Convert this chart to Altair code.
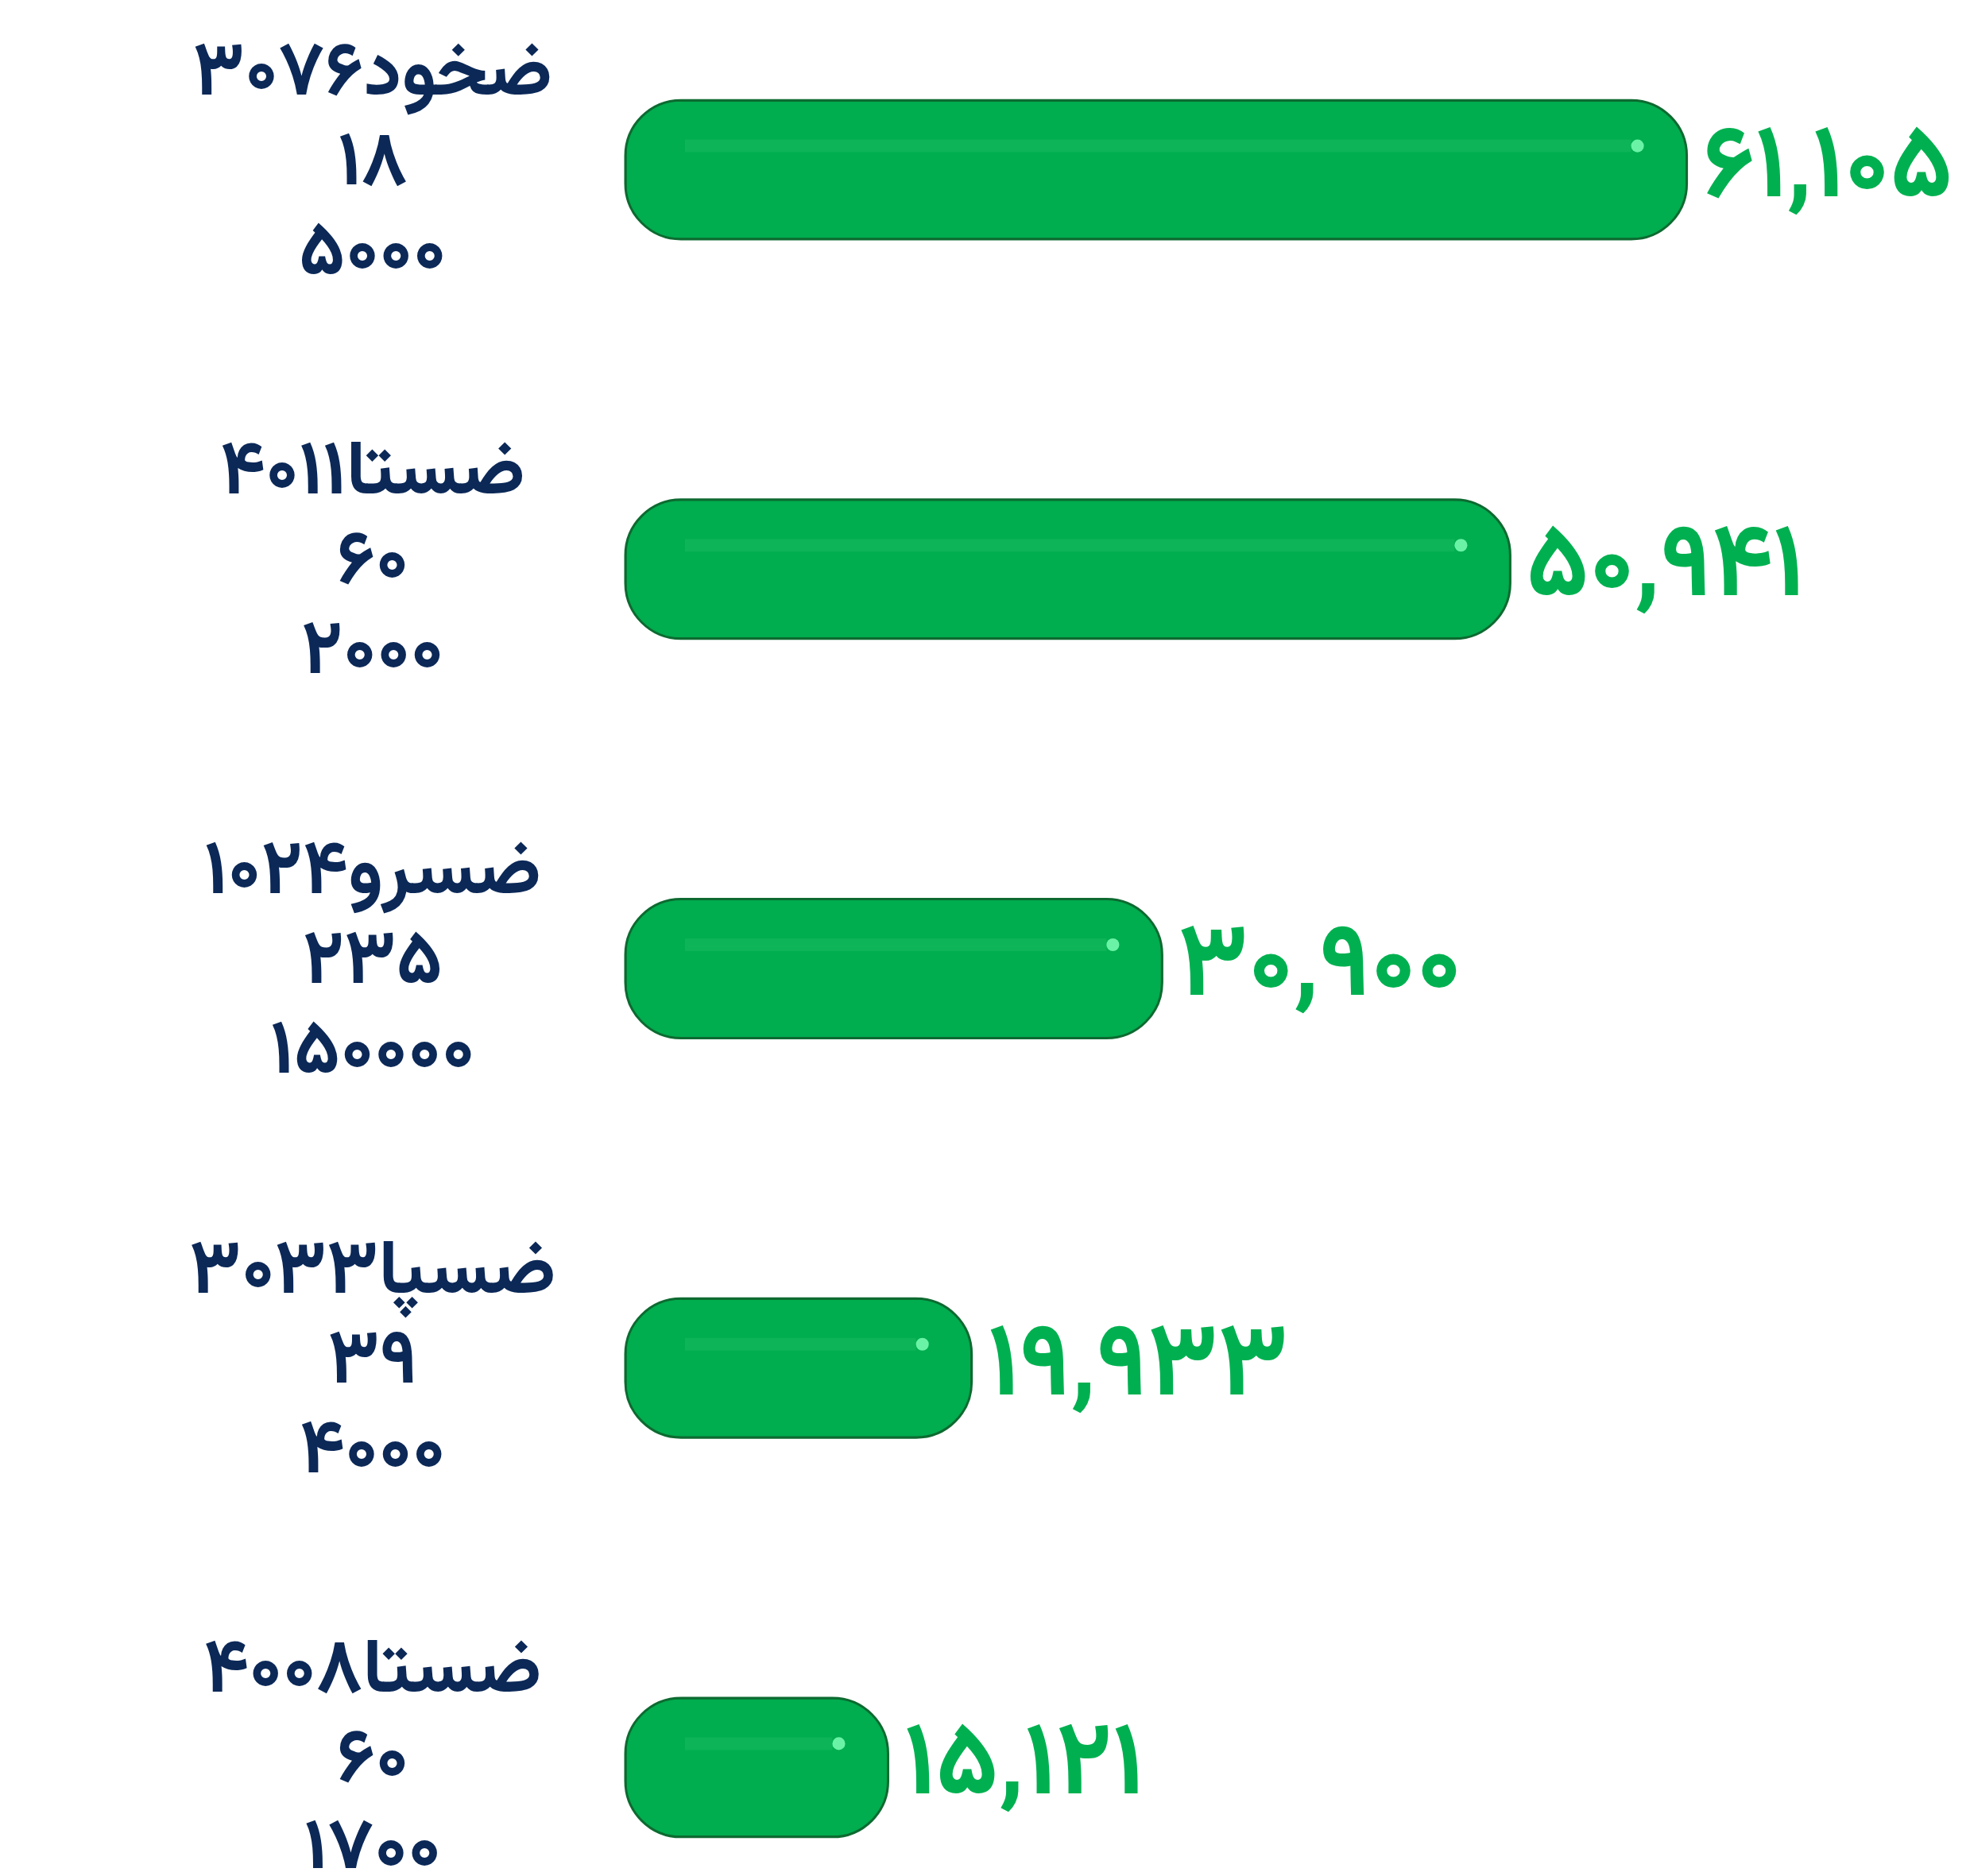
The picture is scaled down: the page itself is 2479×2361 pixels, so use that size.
import altair as alt
import pandas as pd

# data
names = ["ضخود۳۰۷۶", "ضستا۴۰۱۱", "ضسرو۱۰۲۴", "ضسپا۳۰۳۳", "ضستا۴۰۰۸"]
line2 = ["۱۸", "۶۰", "۲۳۵", "۳۹", "۶۰"]
line3 = ["۵۰۰۰", "۲۰۰۰", "۱۵۰۰۰۰", "۴۰۰۰", "۱۷۰۰"]
values = [61105, 50941, 30900, 19933, 15121]

fa_digits = str.maketrans("0123456789", "۰۱۲۳۴۵۶۷۸۹")

df = pd.DataFrame({
    "cat": [f"{a}\n{b}\n{c}" for a, b, c in zip(names, line2, line3)],
    "value": values,
    "start": [0] * len(values),
    "vtext": [f"{v:,}".translate(fa_digits) for v in values],
})

GREEN = "#00ad4f"
NAVY = "#0b2857"
FONT = "Vazirmatn, Noto Sans Arabic, Noto Naskh Arabic, DejaVu Sans"

y_enc = alt.Y("cat:N", sort=None, axis=None,
              scale=alt.Scale(paddingInner=0.652, paddingOuter=0.05))
x_scale = alt.Scale(domain=[0, 70000], nice=False, zero=True)

base = alt.Chart(df)

bars = base.mark_bar(
    cornerRadius=70, color=GREEN, stroke="#0d6a30", strokeWidth=3
).encode(
    x=alt.X("value:Q", scale=x_scale, axis=None),
    y=y_enc,
)

shine = base.mark_rule(
    color="#3fd47e", strokeWidth=16, opacity=0.2,
    xOffset=75, x2Offset=-70, yOffset=-30,
).encode(
    x=alt.X("start:Q", scale=x_scale),
    x2="value:Q",
    y=y_enc,
)

spot = base.mark_point(
    filled=True, color="#7dffb5", size=260, opacity=0.85, shape="circle",
    xOffset=-62, yOffset=-30,
).encode(
    x=alt.X("value:Q", scale=x_scale),
    y=y_enc,
)

values_txt = base.mark_text(
    align="left", baseline="middle", dx=20, dy=-6,
    font=FONT, fontWeight="bold", fontSize=130, color="#00b050"
).encode(
    x=alt.X("value:Q", scale=x_scale),
    y=y_enc,
    text="vtext:N",
)

labels = base.mark_text(
    align="center", baseline="middle", lineBreak="\n", dy=-124,
    font=FONT, fontWeight="bold", fontSize=96, lineHeight=113, color=NAVY
).encode(
    x=alt.value(-318),
    y=y_enc,
    text="cat:N",
)

chart = alt.layer(bars, shine, spot, values_txt, labels).properties(
    width=1530,
    height=2236,
    background="white",
    autosize=alt.AutoSizeParams(type="none"),
    padding={"left": 779, "top": 93, "right": 150, "bottom": 14},
).configure_view(stroke=None)

chart.save("out.html", embed_options={"renderer": "svg", "actions": False})
